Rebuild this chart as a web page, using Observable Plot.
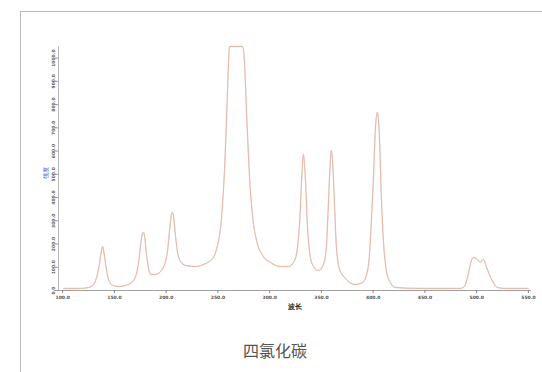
<!DOCTYPE html>
<html>
<head>
<meta charset="utf-8">
<script src="https://cdn.jsdelivr.net/npm/d3@7"></script>
<script src="https://cdn.jsdelivr.net/npm/@observablehq/plot@0.6"></script>
<style>
  html, body { margin: 0; padding: 0; background: #fff; }
  #wrap { position: relative; width: 542px; height: 372px; overflow: hidden; }
  #frame { position: absolute; left: 20px; top: 11px; width: 600px; height: 400px;
           border-top: 1.5px solid #bcbcbc; border-left: 1.5px solid #bcbcbc; box-sizing: border-box; }
  #chart { position: absolute; left: 0; top: 0; }
  #caption { position: absolute; left: 0; width: 550px; top: 338px; text-align: center;
             font-family: "Noto Sans CJK SC", sans-serif; font-size: 16px; color: #555; }
</style>
</head>
<body>
<div id="wrap">
  <div id="frame"></div>
  <div id="chart"></div>
  <div id="caption">四氯化碳</div>
</div>
<script>
// spectrum samples (x: position, y: intensity)
const xs = [101.0,117.4,125.1,129.9,132.8,134.8,136.7,138.6,140.5,142.5,144.4,148.3,154.1,160.8,166.6,170.5,173.4,175.3,177.2,178.2,179.2,181.1,183.0,184.9,189.8,194.6,198.5,201.4,203.3,205.3,206.2,207.1,209.1,211.0,213.9,218.7,228.4,238.0,242.9,246.7,249.6,252.5,254.4,256.4,258.3,260.2,261.2,273.8,275.7,277.6,280.5,283.4,287.3,293.1,300.8,310.5,318.2,324.0,326.8,328.8,330.7,332.6,334.6,336.5,338.4,341.3,347.1,352.0,354.9,356.7,358.7,359.6,360.6,362.5,364.4,367.3,373.2,382.8,389.6,393.5,396.4,398.3,400.2,402.1,404.1,406.0,407.9,409.9,412.8,416.6,421.4,445.6,484.2,488.1,491.0,493.9,496.8,499.7,503.6,506.5,509.4,512.3,516.1,520.0,527.6,549.8];
const ys = [9,9,13,26,56,95,151,190,146,86,47,22,17,22,34,60,121,194,246,250,233,151,95,69,69,82,112,172,259,332,336,319,233,164,125,108,103,116,129,151,194,267,366,517,733,970,1050,1050,983,776,496,323,216,151,121,103,103,129,181,280,453,586,474,280,172,112,86,112,194,366,560,603,569,388,194,95,52,26,34,65,151,302,474,690,767,668,409,216,86,34,13,9,9,17,52,112,142,138,121,134,103,69,34,13,9,9];
const xTicks = [100,150,200,250,300,350,400,450,500,550];
const yTicks = [0,100,200,300,400,500,600,700,800,900,1000];
const xLabel = "波长";
const yLabel = "强度";

const data = xs.map((x, i) => ({x, y: ys[i]}));

const chart = Plot.plot({
  width: 542,
  height: 320,
  marginLeft: 58,
  marginRight: 11,
  marginTop: 46,
  marginBottom: 30,
  style: { fontFamily: "DejaVu Sans, sans-serif", background: "transparent" },
  x: { domain: [96, 553] },
  y: { domain: [0, 1050] },
  marks: [
    Plot.ruleY([0], { stroke: "#a0a0a0", strokeWidth: 1.2 }),
    Plot.ruleX([96], { stroke: "#b8b8b8", strokeWidth: 1 }),
    Plot.axisX({ ticks: xTicks, tickFormat: d => d.toFixed(1), tickSize: 3, tickPadding: 2,
                 fontSize: 4.5, fontWeight: "bold", stroke: "#888", color: "#555", label: null }),
    Plot.axisY({ ticks: yTicks, tickFormat: d => d.toFixed(1), tickSize: 3, tickPadding: 1,
                 tickRotate: -90, fontSize: 4.5, fontWeight: "bold", stroke: "#999", color: "#666", label: null }),
    Plot.text([xLabel], { frameAnchor: "bottom", dy: 18, text: d => d, fontSize: 7, fontWeight: "bold", fill: "#222" }),
    Plot.text([yLabel], { frameAnchor: "left", dx: -12, dy: 10, rotate: -90, text: d => d, fontSize: 6, fill: "#2a4fd0" }),
    Plot.line(data, { x: "x", y: "y", stroke: "#c8c8c8", strokeWidth: 1.4, curve: "monotone-x", strokeOpacity: 0.45 }),
    Plot.line(data, { x: "x", y: "y", stroke: "#ebb09c", strokeWidth: 0.9, curve: "monotone-x" })
  ]
});
document.getElementById("chart").appendChild(chart);
</script>
</body>
</html>
